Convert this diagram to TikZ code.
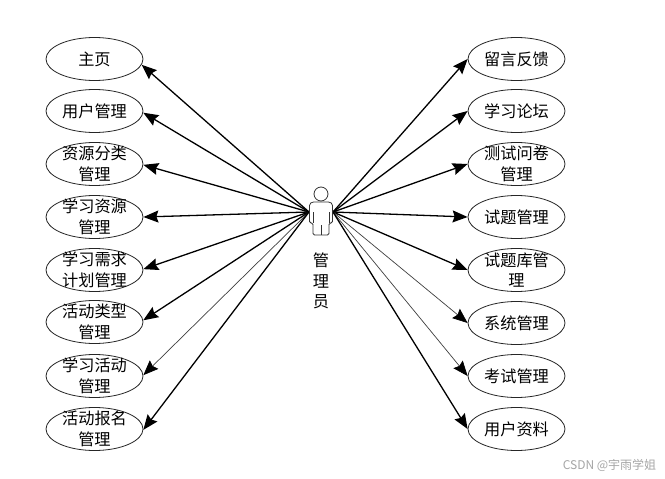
\documentclass[tikz,border=0pt]{standalone}
\usepackage{fontspec}
\setmainfont{Liberation Sans}
\newfontfamily\cjk{Noto Sans CJK SC}
\usetikzlibrary{shapes.geometric,arrows.meta}
\tikzset{
  uc/.style={ellipse,draw=black!85,line width=0.8pt,fill=white,minimum width=97pt,minimum height=43pt,inner sep=0pt},
  lbl/.style={align=center,font=\cjk\fontsize{16.2}{20.5}\selectfont,inner sep=0pt,text=black},
  link/.style={draw=black,line width=1.3pt,-{Stealth[length=15pt,width=12pt,inset=2pt]}},
  thinlink/.style={draw=black!75,line width=0.7pt,-{Stealth[length=15pt,width=12pt,inset=2pt,color=black]}},
  actorline/.style={draw=black!80,line width=0.8pt}
}
\begin{document}
\begin{tikzpicture}[x=1pt,y=-1pt]
\useasboundingbox (0,0) rectangle (665,479);
\fill[white] (0,0) rectangle (665,479);
% anchors of the actor
\coordinate (la) at (309,212);
\coordinate (ra) at (333,212);
% left use cases
\node[uc,label={[lbl]center:主页}] (l1) at (94.5,59) {};
\node[uc,label={[lbl]center:用户管理}] (l2) at (94.5,111) {};
\node[uc,label={[lbl]center:资源分类\\管理}] (l3) at (94.5,164) {};
\node[uc,label={[lbl]center:学习资源\\管理}] (l4) at (94.5,217) {};
\node[uc,label={[lbl]center:学习需求\\计划管理}] (l5) at (94.5,270) {};
\node[uc,label={[lbl]center:活动类型\\管理}] (l6) at (94.5,322) {};
\node[uc,label={[lbl]center:学习活动\\管理}] (l7) at (94.5,376) {};
\node[uc,label={[lbl]center:活动报名\\管理}] (l8) at (94.5,429) {};
% right use cases
\node[uc,label={[lbl]center:留言反馈}] (r1) at (516.5,59) {};
\node[uc,label={[lbl]center:学习论坛}] (r2) at (516.5,111) {};
\node[uc,label={[lbl]center:测试问卷\\管理}] (r3) at (516.5,164) {};
\node[uc,label={[lbl]center:试题管理}] (r4) at (516.5,217) {};
\node[uc,label={[lbl]center:试题库管\\理}] (r5) at (516.5,270) {};
\node[uc,label={[lbl]center:系统管理}] (r6) at (516.5,323) {};
\node[uc,label={[lbl]center:考试管理}] (r7) at (516.5,376) {};
\node[uc,label={[lbl]center:用户资料}] (r8) at (516.5,429) {};
% connectors
\draw[link] (la) -- (l1.-7);
\draw[link] (la) -- (l2.-2.5);
\draw[link] (la) -- (l3.-1);
\draw[link] (la) -- (l4.east);
\draw[link] (la) -- (l5.1);
\draw[link] (la) -- (l6.2.5);
\draw[thinlink] (la) -- (l7.1);
\draw[link] (la) -- (l8.-1);
\draw[link] (ra) -- (r1.west);
\draw[link] (ra) -- (r2.west);
\draw[link] (ra) -- (r3.west);
\draw[link] (ra) -- (r4.west);
\draw[link] (ra) -- (r5.west);
\draw[thinlink] (ra) -- (r6.west);
\draw[thinlink] (ra) -- (r7.west);
\draw[link] (ra) -- (r8.west);
% actor
\node[circle,draw=black!80,line width=0.8pt,fill=white,minimum size=14pt,inner sep=0pt] (head) at (321,194) {};
\draw[actorline,fill=white,rounded corners=1.5pt] (309.5,223) -- (309.5,204) -- (312,202) -- (330,202) -- (332.5,204) -- (332.5,223) -- (329,223) -- (329,235) -- (313,235) -- (313,223) -- cycle;
\draw[actorline] (313,212) -- (313,223) (329,212) -- (329,223) (321,225) -- (321,235);
\node[lbl] (actorname) at (321,281) {管\\理\\员};
% watermark
\node[font=\cjk\fontsize{12}{14}\selectfont,text=black!35,inner sep=0pt] (wm) at (609.5,465) {CSDN @宇雨学姐};
\end{tikzpicture}
\end{document}
